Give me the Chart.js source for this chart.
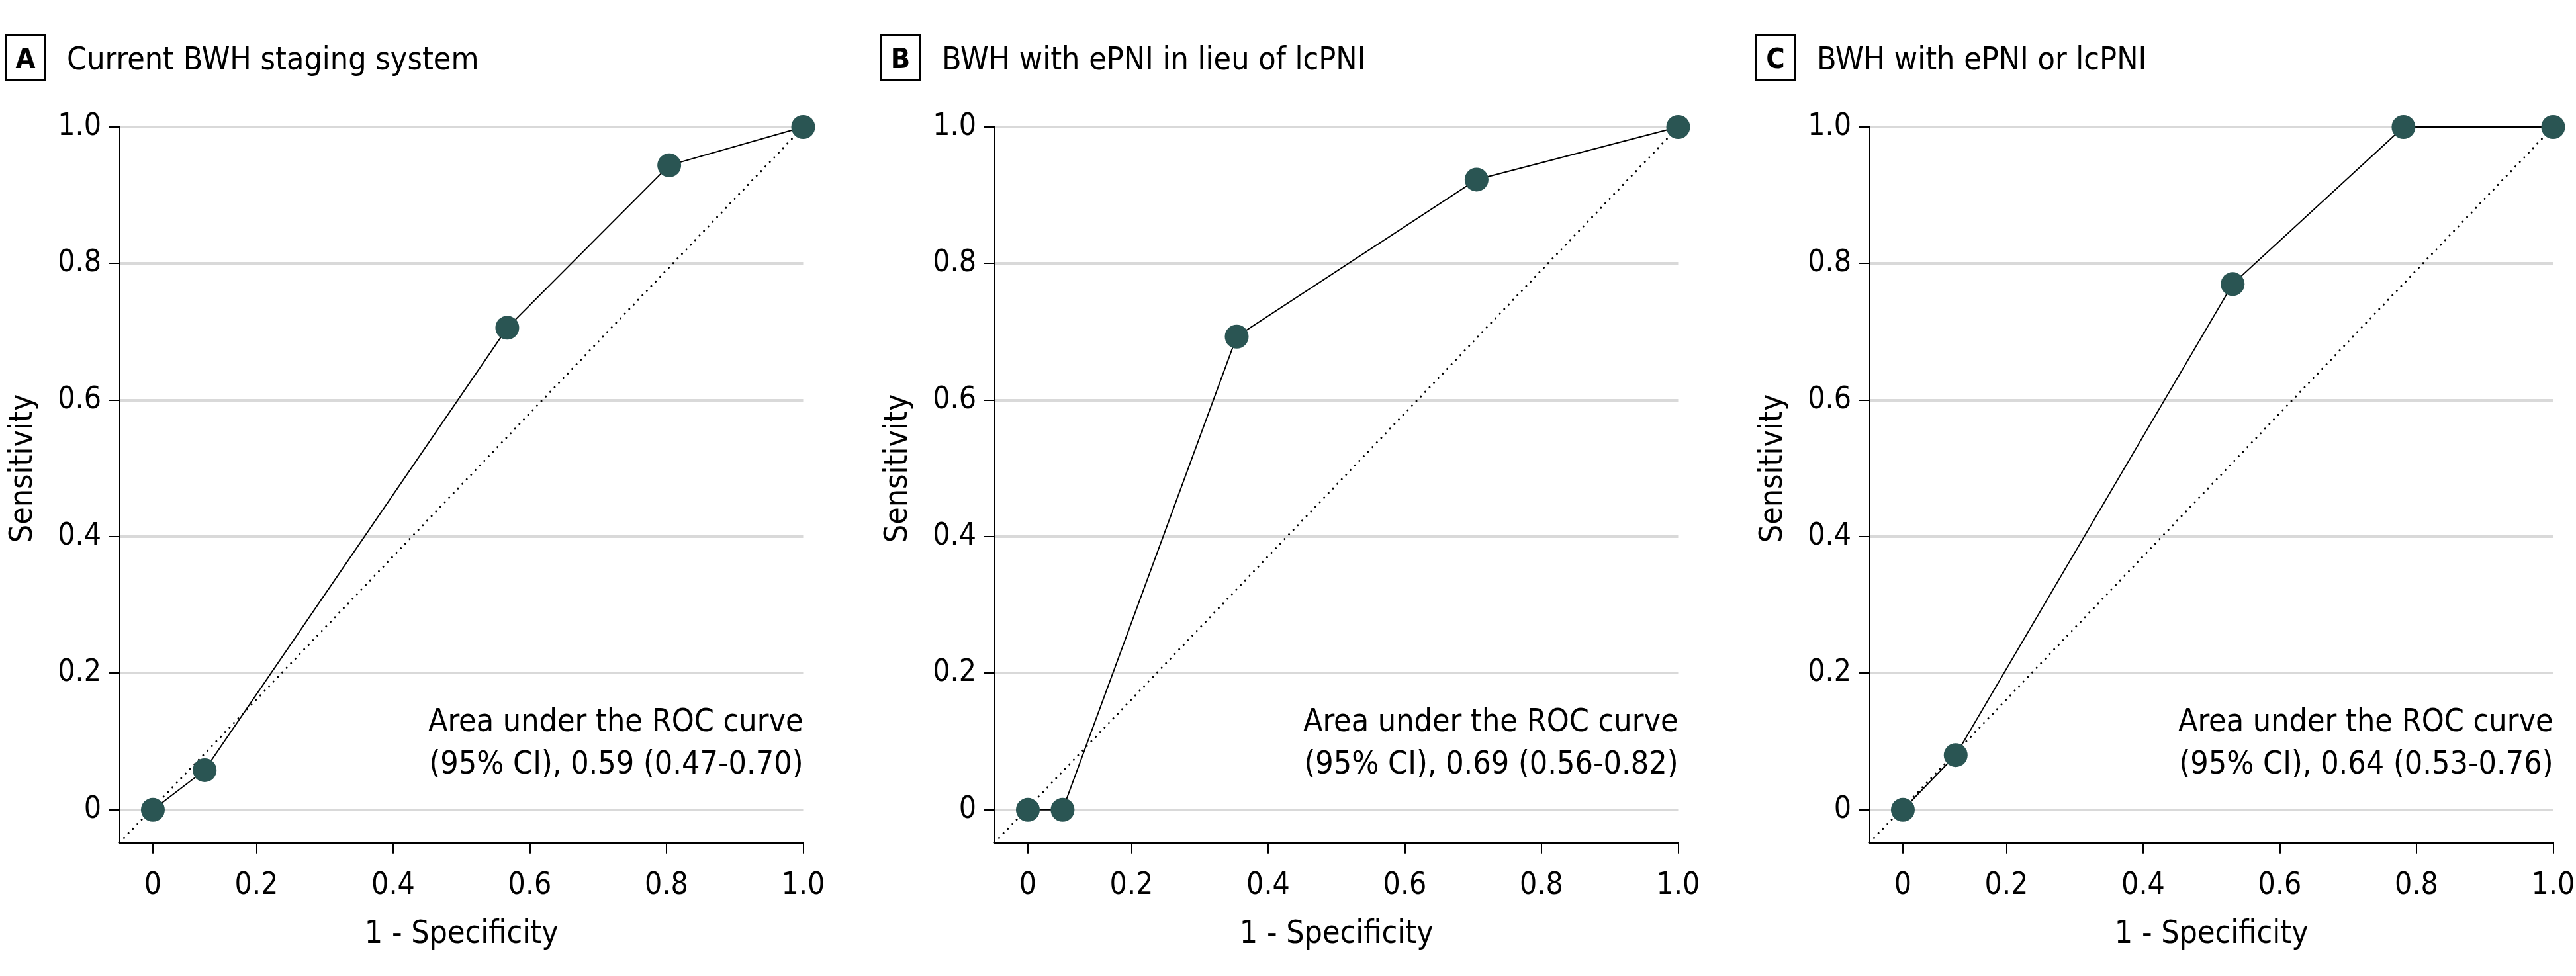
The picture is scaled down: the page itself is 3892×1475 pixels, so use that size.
<!DOCTYPE html>
<html>
<head>
<meta charset="utf-8">
<script src="https://cdn.jsdelivr.net/npm/chart.js@4.4.1/dist/chart.umd.min.js"></script>
<style>
html,body{margin:0;padding:0;background:#fff;overflow:hidden;}
#wrap{position:relative;width:3892px;height:1475px;overflow:hidden;background:#fff;}
canvas{position:absolute;top:0;}
</style>
</head>
<body>
<div id="wrap">
<canvas id="cA" width="1322" height="1475" style="left:0px;width:1322px;height:1475px"></canvas>
<canvas id="cB" width="1322" height="1475" style="left:1322px;width:1322px;height:1475px"></canvas>
<canvas id="cC" width="1322" height="1475" style="left:2644px;width:1322px;height:1475px"></canvas>
</div>
<script>
// ---------------- data ----------------
const panelLetters = ['A', 'B', 'C'];
const panelTitles = ['Current BWH staging system', 'BWH with ePNI in lieu of lcPNI', 'BWH with ePNI or lcPNI'];

const rocA_x = [0, 0.10, 0.567, 0.804, 1.0];
const rocA_y = [0, 0.058, 0.706, 0.944, 1.0];

const rocB_x = [0, 0.067, 0.354, 0.705, 1.0];
const rocB_y = [0, 0, 0.693, 0.923, 1.0];

const rocC_x = [0, 0.102, 0.531, 0.781, 1.0];
const rocC_y = [0, 0.080, 0.770, 1.0, 1.0];

// chance (reference) line, from the lower-left corner of the plot to (1, 1)
const chanceX = [-0.064, 1.0];
const chanceY = [-0.048, 1.0];

const aucLine1 = 'Area under the ROC curve';
const aucLine2 = ['(95% CI), 0.59 (0.47-0.70)', '(95% CI), 0.69 (0.56-0.82)', '(95% CI), 0.64 (0.53-0.76)'];

const xAxisTitle = '1 - Specificity';
const yAxisTitle = 'Sensitivity';
const tickStep = 0.2;

// ---------------- styling ----------------
const FONT = "'DejaVu Sans Condensed', 'DejaVu Sans', sans-serif";
const DOT = '#2a5553';

// x axis of the original: the 0-0.2 interval is drawn compressed
class WarpedLinearScale extends Chart.LinearScale {
  warp(v) {
    const k = 0.0484;
    return v >= 0.2 ? v : k + v * (0.2 - k) / 0.2;
  }
  unwarp(l) {
    const k = 0.0484;
    return l >= 0.2 ? l : (l - k) * 0.2 / (0.2 - k);
  }
  getPixelForValue(v) {
    if (v === null || v === undefined || isNaN(v)) return NaN;
    return super.getPixelForValue(this.warp(v));
  }
  getValueForPixel(p) {
    return this.unwarp(super.getValueForPixel(p));
  }
}
WarpedLinearScale.id = 'warpedLinear';
WarpedLinearScale.defaults = Chart.LinearScale.defaults;
Chart.register(WarpedLinearScale);

const annot = {
  id: 'annot',
  afterDraw(chart, args, opts) {
    const ctx = chart.ctx, ca = chart.chartArea, ys = chart.scales.y;
    ctx.save();
    ctx.fillStyle = '#000';
    ctx.strokeStyle = '#000';
    // panel letter box
    ctx.lineWidth = 3;
    ctx.strokeRect(8.5, 52.5, 60, 68);
    ctx.font = 'bold 43px ' + FONT;
    ctx.textAlign = 'center';
    ctx.textBaseline = 'alphabetic';
    ctx.fillText(opts.letter, 38.5, 103);
    // panel title
    ctx.font = '48px ' + FONT;
    ctx.textAlign = 'left';
    ctx.fillText(opts.title, 101, 105);
    // y axis title
    ctx.save();
    ctx.translate(48, ys.getPixelForValue(0.5));
    ctx.rotate(-Math.PI / 2);
    ctx.textAlign = 'center';
    ctx.fillText(yAxisTitle, 0, 0);
    ctx.restore();
    // x axis title
    ctx.textAlign = 'center';
    ctx.fillText(xAxisTitle, (ca.left + ca.right) / 2, 1425);
    // AUC annotation
    ctx.textAlign = 'right';
    ctx.fillText(aucLine1, ca.right, 1105);
    ctx.fillText(opts.auc, ca.right, 1169);
    ctx.restore();
  }
};

function fmt(v) {
  return Math.abs(v) < 1e-9 ? '0' : Number(v).toFixed(1);
}

function makePanel(id, idx, xs, ys) {
  const canvas = document.getElementById(id);
  const W = canvas.width;
  const rocData = xs.map((x, i) => ({ x: x, y: ys[i] }));
  const chanceData = chanceX.map((x, i) => ({ x: x, y: chanceY[i] }));
  new Chart(canvas, {
    type: 'scatter',
    data: {
      datasets: [
        {
          data: rocData,
          showLine: true,
          borderColor: '#000',
          borderWidth: 2,
          pointRadius: 18,
          pointHoverRadius: 18,
          pointBackgroundColor: DOT,
          pointBorderWidth: 0,
          clip: false
        },
        {
          data: chanceData,
          showLine: true,
          borderColor: '#000',
          borderWidth: 3,
          borderDash: [0.01, 9.6],
          borderCapStyle: 'round',
          pointRadius: 0,
          clip: false
        }
      ]
    },
    options: {
      responsive: false,
      animation: false,
      devicePixelRatio: 1,
      events: [],
      layout: { padding: { left: 0, top: 192, right: W - 1213.5, bottom: 0 } },
      plugins: {
        legend: { display: false },
        tooltip: { enabled: false },
        annot: { letter: panelLetters[idx], title: panelTitles[idx], auc: aucLine2[idx] }
      },
      scales: {
        x: {
          type: 'warpedLinear',
          min: 0,
          max: 1,
          afterFit: (axis) => { axis.height = 1475 - 1273.7; },
          border: { display: true, color: '#000', width: 2 },
          grid: { drawOnChartArea: false, color: '#000', lineWidth: 2, tickColor: '#000', tickWidth: 2, tickLength: 16 },
          ticks: {
            stepSize: tickStep,
            autoSkip: false,
            maxRotation: 0,
            padding: 22,
            color: '#000',
            font: { family: FONT, size: 46 },
            callback: (v) => fmt(v)
          }
        },
        y: {
          type: 'linear',
          min: -0.0484,
          max: 1,
          afterFit: (axis) => { axis.width = 181; },
          border: { display: true, color: '#000', width: 2 },
          grid: { color: '#d9d9d9', lineWidth: 4, tickColor: '#000', tickWidth: 2, tickLength: 16 },
          ticks: {
            stepSize: tickStep,
            includeBounds: false,
            padding: 12,
            color: '#000',
            font: { family: FONT, size: 46 },
            callback: (v) => fmt(v)
          }
        }
      }
    },
    plugins: [annot]
  });
}

makePanel('cA', 0, rocA_x, rocA_y);
makePanel('cB', 1, rocB_x, rocB_y);
makePanel('cC', 2, rocC_x, rocC_y);
</script>
</body>
</html>
